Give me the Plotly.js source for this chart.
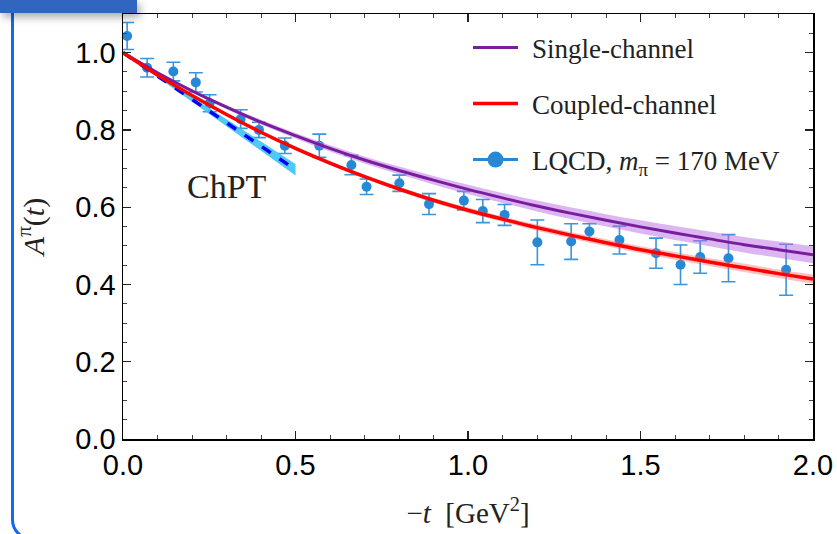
<!DOCTYPE html>
<html>
<head>
<meta charset="utf-8">
<script src="https://cdn.plot.ly/plotly-3.0.1.min.js"></script>
<style>
  html, body { margin:0; padding:0; background:#fff; }
  #chart { position:absolute; left:0; top:0; width:837px; height:534px; }
  #topbar { position:absolute; left:0; top:0; width:137px; height:13px; background:#3265c0; box-shadow:3px 4px 9px rgba(0,0,0,0.35); z-index:6; }
  #sidebar { position:absolute; left:11px; top:10px; width:200px; height:530px; box-sizing:border-box; border-left:3px solid #1169f5; border-bottom:3px solid #1169f5; border-bottom-left-radius:20px; z-index:5; pointer-events:none; }
</style>
</head>
<body>
<div id="chart"></div>
<div id="sidebar"></div>
<div id="topbar"></div>
<script>
// ---- data ----
const tGrid = [0,0.1,0.2,0.3,0.4,0.5,0.6,0.7,0.8,0.9,1.0,1.1,1.2,1.3,1.4,1.5,1.6,1.7,1.8,1.9,2.0];
const singleA   = [1.000,0.948,0.901,0.859,0.820,0.785,0.752,0.722,0.695,0.670,0.646,0.624,0.603,0.584,0.566,0.549,0.533,0.518,0.503,0.490,0.477];
const singleErr = [0,0.002,0.003,0.005,0.006,0.007,0.008,0.009,0.010,0.011,0.012,0.013,0.014,0.015,0.016,0.017,0.018,0.019,0.020,0.021,0.022];
const coupledA   = [1.000,0.942,0.889,0.840,0.794,0.752,0.714,0.679,0.647,0.618,0.592,0.569,0.547,0.527,0.508,0.490,0.474,0.458,0.443,0.428,0.414];
const coupledErr = [0,0.001,0.002,0.003,0.004,0.004,0.005,0.005,0.006,0.006,0.007,0.007,0.008,0.008,0.009,0.009,0.010,0.010,0.011,0.011,0.012];
const chptT   = [0,0.1,0.2,0.3,0.4,0.5];
const chptA   = [1.000,0.940,0.880,0.819,0.758,0.697];
const chptErr = [0,0.003,0.006,0.009,0.012,0.015];
const lqcdT = [0.012,0.070,0.146,0.211,0.251,0.341,0.394,0.469,0.569,0.662,0.706,0.801,0.887,0.988,1.043,1.106,1.201,1.299,1.352,1.439,1.545,1.616,1.673,1.755,1.922];
const lqcdA = [1.043,0.961,0.951,0.923,0.869,0.828,0.800,0.759,0.759,0.709,0.653,0.662,0.608,0.617,0.590,0.580,0.509,0.511,0.537,0.515,0.481,0.451,0.471,0.468,0.438];
const lqcdErr = [0.035,0.024,0.024,0.025,0.022,0.024,0.020,0.020,0.030,0.025,0.020,0.021,0.027,0.024,0.030,0.027,0.058,0.046,0.020,0.036,0.039,0.051,0.042,0.061,0.066];
const xTickVals = [0,0.5,1.0,1.5,2.0];
const yTickVals = [0,0.2,0.4,0.6,0.8,1.0];

const GAP = '\u2004';
const names = {single:GAP+'Single-channel', coupled:GAP+'Coupled-channel', lqcd:GAP+'LQCD, <i>m</i><sub>π</sub> = 170 MeV', chpt:'ChPT'};

const add = (a,b,s) => a.map((v,i)=>v + s*b[i]);
const PURPLE = '#7a1c9e', RED = '#ff0000', BLUE = '#2589d8';

const traces = [
  // LQCD data (drawn first, bands overlay)
  {x:lqcdT, y:lqcdA, mode:'markers', type:'scatter', showlegend:false, hoverinfo:'x+y',
   marker:{color:BLUE, size:10},
   error_y:{type:'data', array:lqcdErr, visible:true, color:'#3a95dc', thickness:1.6, width:7}},
  // ChPT band + line
  {x:chptT, y:add(chptA,chptErr,1), mode:'lines', line:{width:0, color:'#4cc3f5'}, showlegend:false, hoverinfo:'skip'},
  {x:chptT, y:add(chptA,chptErr,-1), mode:'lines', line:{width:0, color:'#4cc3f5'}, fill:'tonexty', fillcolor:'rgba(60,195,245,0.9)', showlegend:false, hoverinfo:'skip'},
  {x:chptT, y:chptA, mode:'lines', line:{color:'#0000ff', width:3.5, dash:'dash'}, showlegend:false, name:names.chpt},
  // single-channel band
  {x:tGrid, y:add(singleA,singleErr,1), mode:'lines', line:{width:0, shape:'spline'}, showlegend:false, hoverinfo:'skip'},
  {x:tGrid, y:add(singleA,singleErr,-1), mode:'lines', line:{width:0, shape:'spline'}, fill:'tonexty', fillcolor:'rgba(185,110,225,0.5)', showlegend:false, hoverinfo:'skip'},
  // coupled-channel band
  {x:tGrid, y:add(coupledA,coupledErr,1), mode:'lines', line:{width:0, shape:'spline'}, showlegend:false, hoverinfo:'skip'},
  {x:tGrid, y:add(coupledA,coupledErr,-1), mode:'lines', line:{width:0, shape:'spline'}, fill:'tonexty', fillcolor:'rgba(255,90,90,0.38)', showlegend:false, hoverinfo:'skip'},
  // lines
  {x:tGrid, y:singleA, mode:'lines', name:names.single, legendgroup:'g1', line:{color:PURPLE, width:3, shape:'spline'}},
  {x:tGrid, y:coupledA, mode:'lines', name:names.coupled, legendgroup:'g2', line:{color:RED, width:3.5, shape:'spline'}},
  // legend entry for LQCD (no data of its own)
  {x:[null], y:[null], mode:'lines+markers', name:names.lqcd, legendgroup:'g3', line:{color:BLUE, width:3}, marker:{color:BLUE, size:18}}
];

const axisCommon = {
  showline:true, linecolor:'black', linewidth:1.5, mirror:'allticks',
  ticks:'inside', ticklen:8, tickwidth:1.3, tickcolor:'#222',
  showgrid:false, zeroline:false,
  tickfont:{family:'Liberation Sans, Arial, sans-serif', size:29, color:'black'},
  tickformat:'.1f'
};

const layout = {
  width:837, height:534,
  margin:{l:123, r:24, t:14, b:95},
  paper_bgcolor:'white', plot_bgcolor:'white',
  showlegend:true,
  xaxis: Object.assign({}, axisCommon, {
    range:[0,2], tickmode:'array', tickvals:xTickVals,
    minor:{dtick:0.1, ticks:'inside', ticklen:4, tickcolor:'#444', tickwidth:1},
    title:{text:'−<i>t</i>  [GeV<sup>2</sup>]', font:{family:'Liberation Serif, serif', size:29, color:'#222'}, standoff:22}
  }),
  yaxis: Object.assign({}, axisCommon, {
    range:[0,1.1], tickmode:'array', tickvals:yTickVals,
    minor:{dtick:0.05, ticks:'inside', ticklen:4, tickcolor:'#444', tickwidth:1},
    title:{text:'<i>A</i><sup>π</sup>(<i>t</i>)', font:{family:'Liberation Serif, serif', size:30, color:'#222'}, standoff:22}
  }),
  legend:{x:0.50, y:0.978, xanchor:'left', yanchor:'top', bgcolor:'rgba(0,0,0,0)',
    font:{family:'Liberation Serif, serif', size:27, color:'#222'},
    traceorder:'grouped', tracegroupgap:18, itemwidth:45},
  annotations:[{x:0.30, y:0.653, xref:'x', yref:'y', text:names.chpt, showarrow:false,
    font:{family:'Liberation Serif, serif', size:34, color:'#222'}}]
};

Plotly.newPlot('chart', traces, layout, {displayModeBar:false, staticPlot:true});
</script>
</body>
</html>
